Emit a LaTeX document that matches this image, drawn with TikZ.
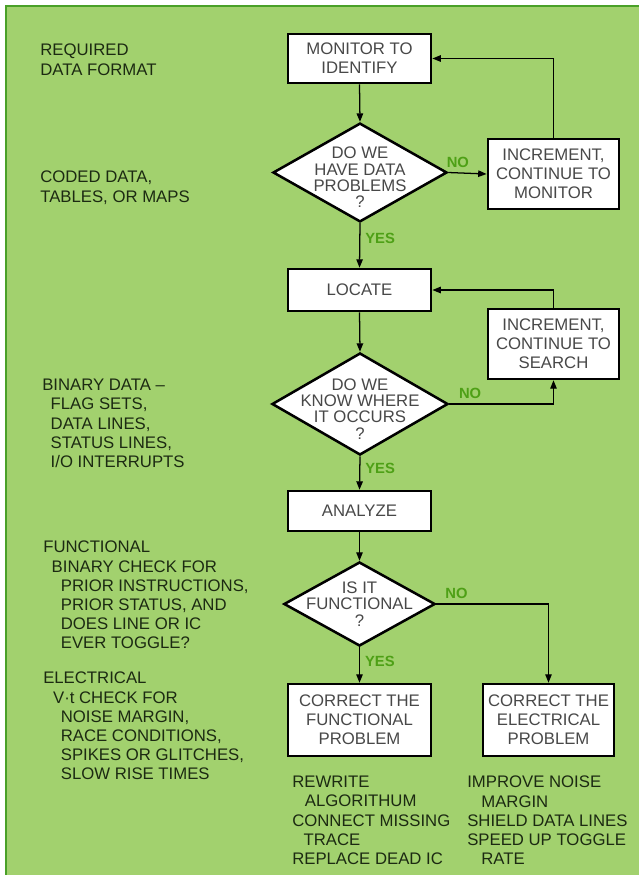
\documentclass[tikz,border=0pt]{standalone}
\usepackage{fontspec}
\setmainfont{Liberation Sans}
\usetikzlibrary{arrows.meta,shapes.geometric}
\definecolor{panelgreen}{RGB}{162,209,110}
\definecolor{edgegreen}{RGB}{74,160,40}
\definecolor{answergreen}{RGB}{78,160,22}
\definecolor{notetext}{RGB}{28,42,18}
\definecolor{boxtext}{RGB}{72,72,72}
\tikzset{
  procbox/.style={draw=black, line width=1.8pt, fill=white, text=boxtext,
    align=center, inner sep=2pt, font=\fontsize{11.9}{13.5}\selectfont},
  decision/.style={diamond, draw=black, line width=1.8pt, fill=white, inner sep=0pt},
  decisiontext/.style={text=boxtext, align=center, inner sep=0pt,
    font=\fontsize{11.9}{11.7}\selectfont},
  note/.style={anchor=north west, align=left, inner sep=0pt, text=notetext,
    font=\fontsize{11.9}{13.6}\selectfont},
  answer/.style={text=answergreen, inner sep=3.5pt, font=\bfseries\fontsize{10.5}{12}\selectfont},
  flow/.style={-{Triangle[length=6pt, width=4.6pt]}, line width=0.9pt}
}
\newcommand{\ind}[1]{\hspace*{#1pt}}

\begin{document}
\begin{tikzpicture}[x=0.025cm, y=-0.025cm]
  \useasboundingbox (0,0) rectangle (639,875);
  \fill[white] (0,0) rectangle (639,875);
  \fill[panelgreen] (5,5) rectangle (639,875);
  \draw[edgegreen, line width=1.6pt] (6,875) -- (6,6) -- (639,6);

  % flow chart
  \node[procbox, minimum width=3.58cm, minimum height=1.23cm] (mon) at (359.5,58.5) {MONITOR TO\\IDENTIFY};
  \node[decision, minimum width=4.35cm, minimum height=2.47cm] (d1) at (360,172.5) {};
  \node[decisiontext] (d1t) at ([yshift=-3.5pt]d1.center) {DO WE\\HAVE DATA\\PROBLEMS\\?};
  \node[procbox, minimum width=3.28cm, minimum height=1.75cm] (incmon) at (553.5,174) {INCREMENT,\\CONTINUE TO\\MONITOR};
  \node[procbox, minimum width=3.58cm, minimum height=1.05cm] (loc) at (359.5,290) {LOCATE};
  \node[procbox, minimum width=3.28cm, minimum height=1.75cm] (incsea) at (553.5,344) {INCREMENT,\\CONTINUE TO\\SEARCH};
  \node[decision, minimum width=4.4cm, minimum height=2.55cm] (d2) at (360,404) {};
  \node[decisiontext] (d2t) at ([yshift=-3.5pt]d2.center) {DO WE\\KNOW WHERE\\IT OCCURS\\?};
  \node[procbox, minimum width=3.58cm, minimum height=1cm] (ana) at (359.5,511) {ANALYZE};
  \node[decision, minimum width=3.78cm, minimum height=2.1cm] (d3) at (359.5,604) {};
  \node[decisiontext] (d3t) at (d3.center) {IS IT\\FUNCTIONAL\\?};
  \node[procbox, minimum width=3.58cm, minimum height=1.8cm] (fixfun) at (359.5,720) {CORRECT THE\\FUNCTIONAL\\PROBLEM};
  \node[procbox, minimum width=3.28cm, minimum height=1.8cm] (fixele) at (548.5,720) {CORRECT THE\\ELECTRICAL\\PROBLEM};

  \draw[flow] (mon.south) -- (d1.north);
  \draw[flow] (d1.east) -- node[answer, above, pos=.25] (no1) {NO} (incmon.west);
  \draw[flow] (incmon.north) |- (mon.east);
  \draw[flow] (d1.south) -- node[answer, right, pos=.35] (yes1) {YES} (loc.north);
  \draw[flow] (loc.south) -- (d2.north);
  \draw[flow] (d2.east) -| node[answer, above, pos=.1] (no2) {NO} (incsea.south);
  \draw[flow] (incsea.north) |- (loc.east);
  \draw[flow] (d2.south) -- node[answer, right, pos=.35] (yes2) {YES} (ana.north);
  \draw[flow] (ana.south) -- (d3.north);
  \draw[flow] (d3.east) -| node[answer, above, pos=.09] (no3) {NO} (fixele.north);
  \draw[flow] (d3.south) -- node[answer, right, pos=.4] (yes3) {YES} (fixfun.north);

  % notes at the left
  \node[note] (fmtnote) at (40,44) {REQUIRED\\DATA FORMAT};
  \node[note] (codenote) at (40,171) {CODED DATA,\\TABLES, OR MAPS};
  \node[note] (binnote) at (42,379) {BINARY DATA --\\\ind{6}FLAG SETS,\\\ind{6}DATA LINES,\\\ind{6}STATUS LINES,\\\ind{6}I/O INTERRUPTS};
  \node[note] (funnote) at (43,541) {FUNCTIONAL\\\ind{6}BINARY CHECK FOR\\\ind{12.5}PRIOR INSTRUCTIONS,\\\ind{12.5}PRIOR STATUS, AND\\\ind{12.5}DOES LINE OR IC\\\ind{12.5}EVER TOGGLE?};
  \node[note] (elenote) at (43,672) {ELECTRICAL\\\ind{7}V·t CHECK FOR\\\ind{12.5}NOISE MARGIN,\\\ind{12.5}RACE CONDITIONS,\\\ind{12.5}SPIKES OR GLITCHES,\\\ind{12.5}SLOW RISE TIMES};

  % remedies under the boxes
  \node[note] (funfix) at (292,776) {REWRITE\\\ind{9}ALGORITHUM\\CONNECT MISSING\\\ind{8}TRACE\\REPLACE DEAD IC};
  \node[note] (elefix) at (467,776) {IMPROVE NOISE\\\ind{10}MARGIN\\SHIELD DATA LINES\\SPEED UP TOGGLE\\\ind{10}RATE};
\end{tikzpicture}
\end{document}
